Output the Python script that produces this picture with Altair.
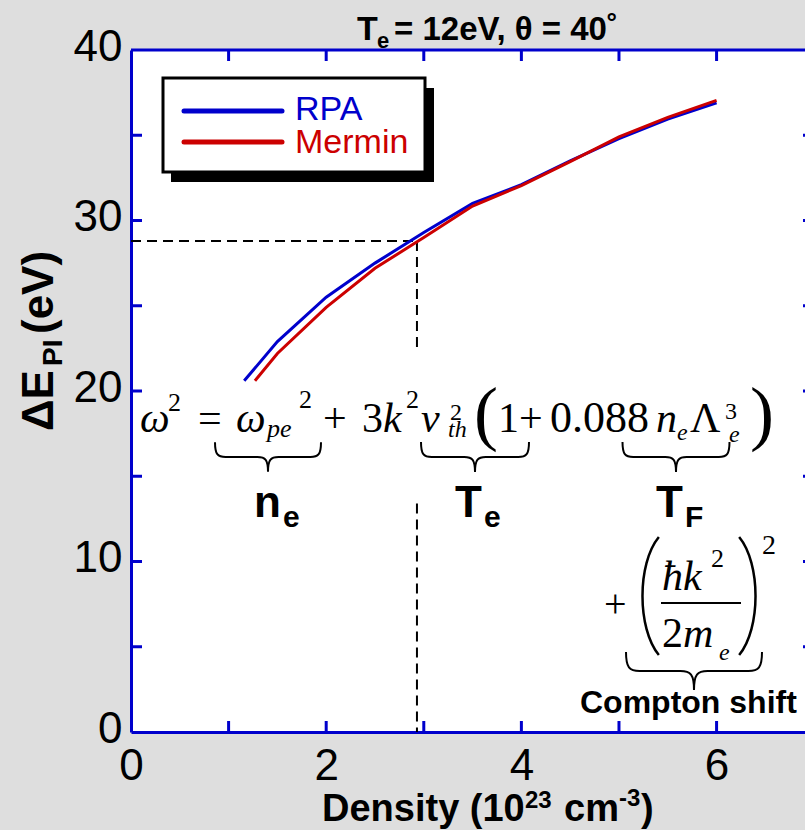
import altair as alt
import pandas as pd

# ---------------- data ----------------
density_rpa = [1.16, 1.5, 2.0, 2.5, 3.0, 3.5, 4.0, 4.5, 5.0, 5.5, 6.0]
shift_rpa = [20.6, 22.9, 25.5, 27.5, 29.3, 31.0, 32.1, 33.5, 34.8, 35.95, 36.9]
density_mermin = [1.27, 1.5, 2.0, 2.5, 3.0, 3.5, 4.0, 4.5, 5.0, 5.5, 6.0]
shift_mermin = [20.6, 22.2, 24.9, 27.2, 29.0, 30.85, 32.05, 33.45, 34.9, 36.05, 37.05]
x_tick_labels = [0, 2, 4, 6]
y_tick_labels = [0, 10, 20, 30, 40]
x_minor = [1, 2, 3, 4, 5, 6, 7]
y_minor = [5, 10, 15, 20, 25, 30, 35]
guide_density = 2.93
guide_shift = 28.8
guide_gap = [22.4, 13.4]   # dashed vertical line hidden between these

# ---------------- style ----------------
BLUE = "#0000cc"
RED = "#cc0000"
SANS = "Liberation Sans"
SERIF = "Liberation Serif"
OX, OY = 131, 50           # plot origin on the page
W, H = 674, 682
XMAX = 6.906               # frame continues past the window edge
xs = alt.Scale(domain=[0, XMAX], nice=False, zero=False)
ys = alt.Scale(domain=[0, 40], nice=False, zero=False)
XAX = alt.Axis(values=x_tick_labels, ticks=False, grid=False, domainColor=BLUE,
               domainWidth=3, labelFont=SANS, labelFontSize=44, labelColor="black",
               labelPadding=12, labelFlush=False, labelOverlap=False, title=None)
YAX = alt.Axis(values=y_tick_labels, ticks=False, grid=False, domainColor=BLUE,
               domainWidth=3, labelFont=SANS, labelFontSize=44, labelColor="black",
               labelPadding=9, labelFlush=False, labelOverlap=False, labelOffset=-3,
               title=None)


def X(f):
    return alt.X(f, type="quantitative", scale=xs, axis=XAX)


def Y(f):
    return alt.Y(f, type="quantitative", scale=ys, axis=YAX)


one = pd.DataFrame({"v": [0]})


def txt(s, x, y, size, font=SANS, weight="normal", style="normal", angle=0,
        color="black", align="left", baseline="alphabetic"):
    kw = dict(text=s, fontSize=size, font=font, fontWeight=weight, fontStyle=style,
              align=align, baseline=baseline, color=color)
    if angle:
        kw["angle"] = angle
    return alt.Chart(one).mark_text(**kw).encode(x=alt.value(x - OX), y=alt.value(y - OY))


BRACE = ("M -1 -0.28 C -1 -0.05 -0.95 0 -0.8 0 L -0.2 0 C -0.05 0 0 0.05 0 0.28 "
         "C 0 0.05 0.05 0 0.2 0 L 0.8 0 C 0.95 0 1 -0.05 1 -0.28")
LPAREN = "M 0.15 -1 C -0.22 -0.55 -0.22 0.55 0.15 1"
RPAREN = "M -0.15 -1 C 0.22 -0.55 0.22 0.55 -0.15 1"


def sym(path, cx, cy, width, sw=2.0):
    return alt.Chart(one).mark_point(shape=path, size=width * width, filled=False,
                                     color="black", strokeWidth=sw, opacity=1).encode(
        x=alt.value(cx - OX), y=alt.value(cy - OY))


layers = []

# frame: top line and inward ticks
layers.append(alt.Chart(pd.DataFrame({"a": [0], "b": [XMAX], "c": [40]})).mark_rule(
    color=BLUE, strokeWidth=3).encode(x=X("a"), x2="b", y=Y("c")))
xt = pd.DataFrame({"t": x_minor})
yt = pd.DataFrame({"t": y_minor})
layers.append(alt.Chart(xt).mark_rule(color=BLUE, strokeWidth=3).encode(
    x=X("t"), y=alt.value(H), y2=alt.value(H - 11)))
layers.append(alt.Chart(xt).mark_rule(color=BLUE, strokeWidth=3).encode(
    x=X("t"), y=alt.value(0), y2=alt.value(11)))
layers.append(alt.Chart(yt).mark_rule(color=BLUE, strokeWidth=3).encode(
    y=Y("t"), x=alt.value(0), x2=alt.value(11)))
layers.append(alt.Chart(yt.assign(r=7)).mark_rule(color=BLUE, strokeWidth=3).encode(
    y=Y("t"), x=X("r"), x2=alt.value(W - 2)))

# dashed guides
dash = dict(color="black", strokeWidth=2, strokeDash=[10, 6])
layers.append(alt.Chart(pd.DataFrame({"a": [0], "b": [guide_density], "c": [guide_shift]}))
              .mark_rule(**dash).encode(x=X("a"), x2="b", y=Y("c")))
layers.append(alt.Chart(pd.DataFrame({"a": [guide_density, guide_density],
                                      "c": [guide_shift, guide_gap[1]],
                                      "d": [guide_gap[0], 0]}))
              .mark_rule(**dash).encode(x=X("a"), y=Y("c"), y2="d"))

# curves
layers.append(alt.Chart(pd.DataFrame({"d": density_rpa, "s": shift_rpa})).mark_line(
    color=BLUE, strokeWidth=3).encode(x=X("d"), y=Y("s")))
layers.append(alt.Chart(pd.DataFrame({"d": density_mermin, "s": shift_mermin})).mark_line(
    color=RED, strokeWidth=3).encode(x=X("d"), y=Y("s")))

# legend box
layers.append(alt.Chart(one).mark_rect(color="black").encode(
    x=alt.value(171 - OX), x2=alt.value(434 - OX), y=alt.value(88 - OY), y2=alt.value(182 - OY)))
layers.append(alt.Chart(one).mark_rect(fill="white", stroke="black", strokeWidth=3).encode(
    x=alt.value(163 - OX), x2=alt.value(425 - OX), y=alt.value(78 - OY), y2=alt.value(172 - OY)))
for yy, col in [(111, BLUE), (142, RED)]:
    layers.append(alt.Chart(one).mark_rule(color=col, strokeWidth=5, strokeCap="round").encode(
        x=alt.value(184 - OX), x2=alt.value(282 - OX), y=alt.value(yy - OY)))
layers.append(txt("RPA", 295, 120, 34, color=BLUE))
layers.append(txt("Mermin", 295, 153, 34, color=RED))

# title
layers.append(txt("T", 357, 40, 34, weight="bold"))
layers.append(txt("e", 377, 48, 22, weight="bold"))
layers.append(txt("= 12eV, θ = 40˚", 394, 40, 33, weight="bold"))

# axis titles
layers.append(txt("Density (10", 322, 821, 38, weight="bold"))
layers.append(txt("23", 525, 808, 24, weight="bold"))
layers.append(txt("cm", 564, 821, 38, weight="bold"))
layers.append(txt("-3", 619, 806, 24, weight="bold"))
layers.append(txt(")", 641, 821, 38, weight="bold"))
layers.append(txt("ΔE", 53, 431, 44, weight="bold", angle=270))
layers.append(txt("PI", 62, 366, 28, weight="bold", angle=270))
layers.append(txt("(eV)", 53, 334, 44, weight="bold", angle=270))

# dispersion relation
eq = [
    ("ω", 140, 432, 42, "italic"), ("2", 168, 411, 26, "normal"),
    ("=", 198, 432, 42, "normal"), ("ω", 236, 432, 42, "italic"),
    ("pe", 267, 437, 26, "italic"), ("2", 299, 408, 26, "normal"),
    ("+", 323, 432, 42, "normal"), ("3", 362, 432, 42, "normal"),
    ("k", 383, 432, 42, "italic"), ("2", 406, 408, 26, "normal"),
    ("v", 421, 432, 42, "italic"), ("2", 450, 420, 24, "normal"),
    ("th", 448, 437, 24, "italic"), ("(", 474, 437, 72, "normal"),
    ("1", 498, 432, 42, "normal"), ("+", 519, 432, 42, "normal"),
    ("0.088", 550, 432, 44, "normal"), ("n", 656, 432, 42, "italic"),
    ("e", 677, 440, 24, "italic"), ("Λ", 690, 432, 42, "normal"),
    ("3", 725, 419, 24, "normal"), ("e", 729, 442, 24, "italic"),
    (")", 750, 437, 72, "normal"),
    ("+", 604, 617, 40, "normal"), ("ħk", 662, 590, 42, "italic"),
    ("2", 711, 567, 26, "normal"), ("2", 662, 647, 42, "normal"),
    ("m", 683, 647, 42, "italic"), ("e", 719, 660, 24, "italic"),
    ("2", 762, 554, 28, "normal"),
]
for s, x, y, size, st in eq:
    layers.append(txt(s, x, y, size, font=SERIF, style=st))
layers.append(sym(LPAREN, 650, 596, 118, 2.5))
layers.append(sym(RPAREN, 748, 596, 118, 2.5))
layers.append(alt.Chart(one).mark_rule(color="black", strokeWidth=2).encode(
    x=alt.value(661 - OX), x2=alt.value(741 - OX), y=alt.value(603 - OY)))

# braces and their labels
for cx, cy, wd in [(268, 457, 106), (475, 457, 108), (676, 457, 107), (694, 671, 136)]:
    layers.append(sym(BRACE, cx, cy, wd, 2.0))
for s, x, y, size in [("n", 254, 517, 44), ("e", 283, 527, 30), ("T", 455, 517, 44),
                      ("e", 484, 527, 30), ("T", 656, 517, 44), ("F", 685, 527, 30)]:
    layers.append(txt(s, x, y, size, weight="bold"))
layers.append(txt("Compton shift", 580, 713, 32, weight="bold"))

chart = alt.layer(*layers).properties(
    width=W, height=H,
    autosize=alt.AutoSizeParams(type="none"),
    padding={"left": OX, "top": OY, "right": 0, "bottom": 830 - OY - H},
).configure(background="#dedede").configure_view(fill="white", stroke=None)

chart.save("out.html", embed_options={"renderer": "svg", "actions": False})
